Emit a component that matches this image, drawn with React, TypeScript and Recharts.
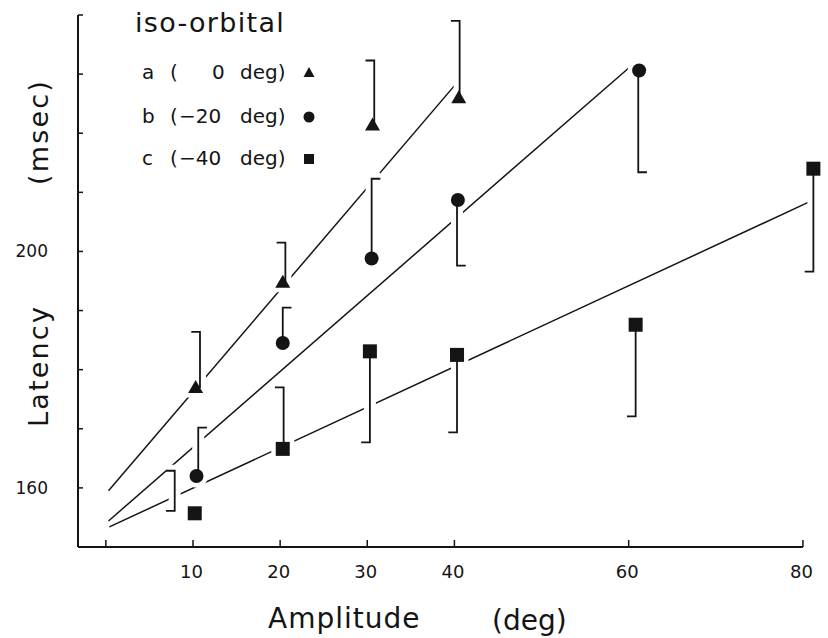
import React from 'react'
import { ComposedChart, Line, Scatter, XAxis, YAxis, ReferenceLine } from 'recharts'

// axes
const xTicks = [0, 10, 20, 30, 40, 60, 80]
const xDomain = [-3.2, 81.5]
const yTicks = [160, 170, 180, 190, 200, 210, 220, 230, 240]
const yLabelled = [160, 200]
const yDomain = [150, 240]

// a ( 0 deg) – triangles
const aAmp = [10.3, 20.3, 30.6, 40.5]
const aLat = [176.9, 194.7, 221.3, 225.9]
const aErrAmp = [10.8, 20.6, 30.8, 40.6]
const aErrEnd = [186.4, 201.5, 232.3, 239.0]
const aFitAmp = [0.3, 40.5]
const aFitLat = [159.5, 228.9]

// b (-20 deg) – circles
const bAmp = [10.4, 20.3, 30.5, 40.4, 61.2]
const bLat = [162.0, 184.5, 198.8, 208.7, 230.6]
const bErrAmp = [10.6, 20.3, 30.5, 40.3, 61.1]
const bErrEnd = [170.2, 190.5, 212.3, 197.6, 213.4]
const bFitAmp = [0.3, 60.6]
const bFitLat = [154.4, 231.8]

// c (-40 deg) – squares
const cAmp = [10.2, 20.3, 30.3, 40.3, 60.8, 81.2]
const cLat = [155.7, 166.6, 183.1, 182.5, 187.6, 214.0]
const cErrAmp = [7.9, 20.4, 30.3, 40.3, 60.8, 81.2]
const cErrStart = [156.1, 166.6, 183.1, 182.5, 187.6, 214.0]
const cErrEnd = [162.9, 177.0, 167.7, 169.4, 172.1, 196.6]
const cFitAmp = [0.4, 80.6]
const cFitLat = [153.4, 208.3]

const legendKeys = ['a', 'b', 'c']
const legendAngles = ['0', '−20', '−40']

const INK = '#141414'
const FONT = '"DejaVu Sans", sans-serif'
const CAP = 1.0 // bracket tick length, deg

const pts = (xs: number[], ys: number[]) => xs.map((x, i) => ({ x, y: ys[i] }))

// each bar: vertical stroke from the point to the end, with a short bracket tick
function bracketList(xs: number[], from: number[], to: number[], side: number, capFrom: boolean[] = []) {
  return xs.map((x, i) => {
    const p: { x: number; y: number }[] = []
    if (capFrom[i]) p.push({ x: x + side * CAP, y: from[i] })
    p.push({ x, y: from[i] }, { x, y: to[i] }, { x: x + side * CAP, y: to[i] })
    return p
  })
}

// same bars as one broken path (used for the white halo under the bars)
function haloPath(list: { x: number; y: number }[][]) {
  const out: { x: number; y: number | null }[] = []
  list.forEach((p) => {
    p.forEach((q) => out.push({ ...q }))
    out.push({ x: p[0].x, y: null })
  })
  return out
}

const aBars = bracketList(aErrAmp, aLat, aErrEnd, -1)
const bBars = bracketList(bErrAmp, bLat, bErrEnd, 1)
const cBars = bracketList(cErrAmp, cErrStart, cErrEnd, -1, [true])
const allBars = [...aBars, ...bBars, ...cBars]

function markerShape(kind: string, halo: boolean) {
  return (p: any) => {
    const { cx, cy } = p
    const fill = halo ? '#fff' : INK
    const stroke = halo ? '#fff' : 'none'
    const sw = halo ? 9 : 0
    if (kind === 'tri')
      return (
        <polygon
          points={`${cx},${cy - 8} ${cx - 7.5},${cy + 5} ${cx + 7.5},${cy + 5}`}
          fill={fill}
          stroke={stroke}
          strokeWidth={sw}
          strokeLinejoin="round"
        />
      )
    if (kind === 'circ') return <circle cx={cx} cy={cy} r={7} fill={fill} stroke={stroke} strokeWidth={sw} />
    return <rect x={cx - 7} y={cy - 7} width={14} height={14} fill={fill} stroke={stroke} strokeWidth={sw} />
  }
}

const noDot = () => <g />

const YTick = (props: any) => {
  const { x, y, payload } = props
  return (
    <g>
      <line x1={x} x2={x + 5} y1={y} y2={y} stroke={INK} strokeWidth={1.5} />
      {yLabelled.includes(payload.value) && (
        <text x={x - 30} y={y + 6} textAnchor="end" fontSize={17} fontFamily={FONT} fill={INK}>
          {payload.value}
        </text>
      )}
    </g>
  )
}

const XTick = (props: any) => {
  const { x, y, payload } = props
  return (
    <g>
      <line x1={x} x2={x} y1={y} y2={y - 7} stroke={INK} strokeWidth={1.5} />
      {payload.value !== 0 && (
        <text x={x - 1.5} y={y + 31} textAnchor="middle" fontSize={18} fontFamily={FONT} fill={INK}>
          {payload.value}
        </text>
      )}
    </g>
  )
}

function LegendMarker({ kind, cx, cy }: { kind: string; cx: number; cy: number }) {
  if (kind === 'tri') return <polygon points={`${cx},${cy - 6} ${cx - 5.5},${cy + 4} ${cx + 5.5},${cy + 4}`} fill={INK} />
  if (kind === 'circ') return <circle cx={cx} cy={cy} r={5.5} fill={INK} />
  return <rect x={cx - 5} y={cy - 5} width={10} height={10} fill={INK} />
}

const kinds = ['tri', 'circ', 'sq']
const rowBase = [79, 123, 165]

export default function App() {
  return (
    <div style={{ position: 'absolute', left: 0, top: 0, width: 828, height: 638, background: '#fff' }}>
      <ComposedChart width={828} height={638} margin={{ top: 15, right: 12, bottom: 0, left: 0 }}>
        <XAxis
          type="number"
          dataKey="x"
          domain={xDomain}
          ticks={xTicks}
          height={91}
          axisLine={false}
          tickLine={false}
          tickSize={0}
          tickMargin={0}
          tick={<XTick />}
          interval={0}
        />
        <YAxis
          type="number"
          dataKey="y"
          domain={yDomain}
          ticks={yTicks}
          width={78}
          axisLine={{ stroke: INK, strokeWidth: 2 }}
          tickLine={false}
          tickSize={0}
          tickMargin={0}
          tick={<YTick />}
          interval={0}
        />
        <ReferenceLine
          segment={[
            { x: xDomain[0], y: yDomain[0] },
            { x: xTicks[xTicks.length - 1], y: yDomain[0] },
          ]}
          stroke={INK}
          strokeWidth={2}
          ifOverflow="visible"
        />

        {/* fitted lines */}
        <Line data={pts(aFitAmp, aFitLat)} dataKey="y" stroke={INK} strokeWidth={1.5} dot={false} isAnimationActive={false} />
        <Line data={pts(bFitAmp, bFitLat)} dataKey="y" stroke={INK} strokeWidth={1.5} dot={false} isAnimationActive={false} />
        <Line data={pts(cFitAmp, cFitLat)} dataKey="y" stroke={INK} strokeWidth={1.5} dot={false} isAnimationActive={false} />

        {/* white halo so the fitted lines break where the bars cross them */}
        <Line data={haloPath(allBars)} dataKey="y" stroke="#fff" strokeWidth={12} dot={false} connectNulls={false} isAnimationActive={false} />

        {/* white halo round the markers */}
        <Scatter data={pts(aAmp, aLat)} shape={markerShape('tri', true)} isAnimationActive={false} />
        <Scatter data={pts(bAmp, bLat)} shape={markerShape('circ', true)} isAnimationActive={false} />
        <Scatter data={pts(cAmp, cLat)} shape={markerShape('sq', true)} isAnimationActive={false} />

        {/* error bars */}
        {allBars.map((d, i) => (
          <Scatter
            key={'e' + i}
            data={d.map((q) => ({ ...q }))}
            line={{ stroke: INK, strokeWidth: 1.8 }}
            lineType="joint"
            shape={noDot}
            isAnimationActive={false}
          />
        ))}

        {/* markers */}
        <Scatter name="a" data={pts(aAmp, aLat)} shape={markerShape('tri', false)} isAnimationActive={false} />
        <Scatter name="b" data={pts(bAmp, bLat)} shape={markerShape('circ', false)} isAnimationActive={false} />
        <Scatter name="c" data={pts(cAmp, cLat)} shape={markerShape('sq', false)} isAnimationActive={false} />
      </ComposedChart>

      <svg width={828} height={638} style={{ position: 'absolute', left: 0, top: 0, pointerEvents: 'none' }}>
        <g fontFamily={FONT} fill={INK}>
          <text x={135} y={32} fontSize={27} letterSpacing={1.3}>iso-orbital</text>
          {legendKeys.map((k, i) => (
            <g key={k}>
              <text y={rowBase[i]} fontSize={20}>
                <tspan x={142}>{k}</tspan>
                <tspan x={170}>(</tspan>
                <tspan x={i === 0 ? 212 : 179}>{legendAngles[i]}</tspan>
                <tspan x={240}>deg)</tspan>
              </text>
              <LegendMarker kind={kinds[i]} cx={309} cy={rowBase[i] - 6} />
            </g>
          ))}
          <text x={268} y={628} fontSize={28} letterSpacing={1}>Amplitude</text>
          <text x={492} y={630} fontSize={28}>(deg)</text>
          <text transform="translate(48,366) rotate(-90)" textAnchor="middle" fontSize={27} letterSpacing={2.2}>Latency</text>
          <text transform="translate(48,132) rotate(-90)" textAnchor="middle" fontSize={27} letterSpacing={2.2}>(msec)</text>
        </g>
      </svg>
    </div>
  )
}
